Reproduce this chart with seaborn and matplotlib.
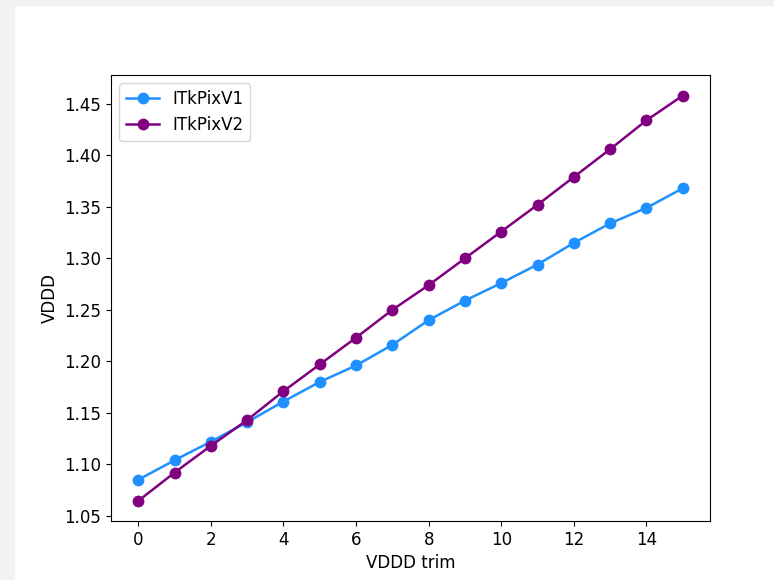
import matplotlib
matplotlib.use("Agg")
import matplotlib.pyplot as plt
import seaborn as sns
from matplotlib.patches import Rectangle

# VDDD vs trim code, two chip versions
trim = list(range(16))
vddd_v1 = [1.085, 1.104, 1.122, 1.141, 1.161, 1.180, 1.196, 1.216,
           1.240, 1.259, 1.276, 1.294, 1.315, 1.334, 1.349, 1.368]
vddd_v2 = [1.0645, 1.092, 1.118, 1.143, 1.171, 1.197, 1.223, 1.250,
           1.274, 1.300, 1.326, 1.352, 1.379, 1.406, 1.434, 1.458]

W, H = 774, 580
plt.rcParams['font.size'] = 12
fig = plt.figure(figsize=(W / 100, H / 100), dpi=100)
fig.patch.set_facecolor('#f2f2f2')
fig.patches.append(Rectangle((15 / W, 0), 1 - 15 / W, 1 - 6 / H,
                             transform=fig.transFigure, facecolor='white',
                             edgecolor='none', zorder=-10))

ax = fig.add_axes([111 / W, 1 - 521 / H, (710 - 111) / W, (521 - 75) / H])
sns.lineplot(x=trim, y=vddd_v1, color='dodgerblue', marker='o', markersize=8.5,
             markeredgewidth=0, linewidth=1.8, label='ITkPixV1', ax=ax)
sns.lineplot(x=trim, y=vddd_v2, color='purple', marker='o', markersize=8.5,
             markeredgewidth=0, linewidth=1.8, label='ITkPixV2', ax=ax)
ax.set_xticks(range(0, 16, 2))
ax.set_yticks([1.05, 1.10, 1.15, 1.20, 1.25, 1.30, 1.35, 1.40, 1.45])
ax.set_ylim(1.045, 1.478)
ax.set_xlabel('VDDD trim')
ax.set_ylabel('VDDD')
ax.legend(loc='upper left')
fig.savefig('out.png', dpi=100, facecolor=fig.get_facecolor())
